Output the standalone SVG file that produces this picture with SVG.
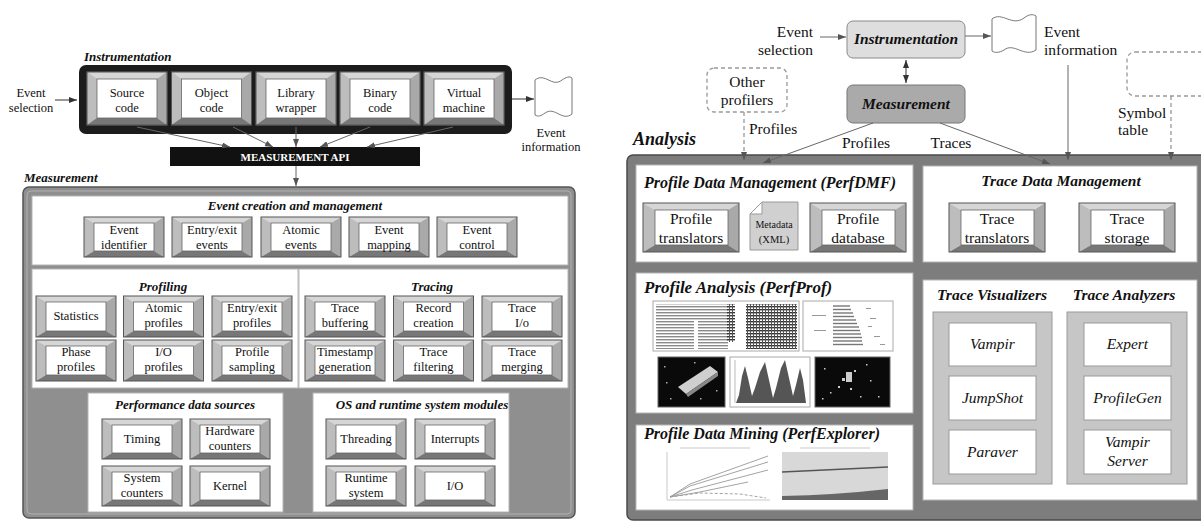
<svg xmlns="http://www.w3.org/2000/svg" width="1201" height="522" viewBox="0 0 1201 522" font-family="'Liberation Serif', 'Times New Roman', Tinos, 'DejaVu Serif', serif">
<style>
  text { font-family: 'Liberation Serif', 'Times New Roman', Tinos, 'DejaVu Serif', serif; fill: #111; }
  .c { text-anchor: middle; }
  .s { font-size: 12.5px; }
  .m { font-size: 15.5px; }
  .bi { font-weight: bold; font-style: italic; }
  .it { font-style: italic; font-size: 15.5px; text-anchor: middle; }
  .ht { font-size: 13px; }
  .hr { font-size: 15.5px; }
  .panel { fill: #fff; stroke: #b5b5b5; stroke-width: 1; }
  .ln { fill: none; stroke: #333; stroke-width: 1; }
  .lg { fill: none; stroke: #666; stroke-width: 1; }
  .dash { fill: none; stroke: #999; stroke-width: 1.3; stroke-dasharray: 4 3; }
</style>
<defs>
  <marker id="ah" viewBox="0 0 8 6" refX="8" refY="3" markerWidth="8" markerHeight="6" markerUnits="userSpaceOnUse" orient="auto-start-reverse">
    <path d="M0,0 L8,3 L0,6 z" fill="#333"/>
  </marker>
  <marker id="ahg" viewBox="0 0 8 6" refX="8" refY="3" markerWidth="8" markerHeight="6" markerUnits="userSpaceOnUse" orient="auto">
    <path d="M0,0 L8,3 L0,6 z" fill="#555"/>
  </marker>
  <!-- bevelled buttons -->
  <symbol id="btnA" overflow="visible">
    <rect x="0" y="0" width="80" height="53" fill="#c8c8c8" stroke="#555" stroke-width="1"/>
    <polygon points="0,0 80,0 70,7 10,7" fill="#d6d6d6"/>
    <polygon points="0,0 10,7 10,46 0,53" fill="#bdbdbd"/>
    <polygon points="80,0 80,53 70,46 70,7" fill="#a9a9a9"/>
    <polygon points="0,53 10,46 70,46 80,53" fill="#777"/>
    <rect x="10" y="7" width="60" height="39" fill="#fff" stroke="#666" stroke-width="0.8"/>
    <rect x="0" y="0" width="80" height="53" fill="none" stroke="#555" stroke-width="1"/>
  </symbol>
  <symbol id="btnB" overflow="visible">
    <polygon points="0,0 80,0 70,6 10,6" fill="#d6d6d6"/>
    <polygon points="0,0 10,6 10,34 0,40" fill="#bdbdbd"/>
    <polygon points="80,0 80,40 70,34 70,6" fill="#a9a9a9"/>
    <polygon points="0,40 10,34 70,34 80,40" fill="#777"/>
    <rect x="10" y="6" width="60" height="28" fill="#fff" stroke="#666" stroke-width="0.8"/>
    <rect x="0" y="0" width="80" height="40" fill="none" stroke="#555" stroke-width="1"/>
  </symbol>
  <symbol id="btnC" overflow="visible">
    <polygon points="0,0 80,0 70,6 10,6" fill="#d6d6d6"/>
    <polygon points="0,0 10,6 10,35 0,41" fill="#bdbdbd"/>
    <polygon points="80,0 80,41 70,35 70,6" fill="#a9a9a9"/>
    <polygon points="0,41 10,35 70,35 80,41" fill="#777"/>
    <rect x="10" y="6" width="60" height="29" fill="#fff" stroke="#666" stroke-width="0.8"/>
    <rect x="0" y="0" width="80" height="41" fill="none" stroke="#555" stroke-width="1"/>
  </symbol>
  <symbol id="btnE" overflow="visible">
    <polygon points="0,0 96,0 85,7 12,7" fill="#d6d6d6"/>
    <polygon points="0,0 12,7 12,42 0,49" fill="#bdbdbd"/>
    <polygon points="96,0 96,49 85,42 85,7" fill="#a9a9a9"/>
    <polygon points="0,49 12,42 85,42 96,49" fill="#777"/>
    <rect x="12" y="7" width="73" height="35" fill="#fff" stroke="#666" stroke-width="0.8"/>
    <rect x="0" y="0" width="96" height="49" fill="none" stroke="#555" stroke-width="1"/>
  </symbol>
  <pattern id="rows" width="6" height="3" patternUnits="userSpaceOnUse">
    <rect x="0" y="0" width="6" height="1.4" fill="#8a8a8a"/>
  </pattern>
  <pattern id="grid" width="3" height="3" patternUnits="userSpaceOnUse">
    <rect x="0" y="0" width="3" height="1.4" fill="#333"/>
    <rect x="0" y="0" width="1" height="3" fill="#555"/>
  </pattern>
</defs>

<rect width="1201" height="522" fill="#fff"/>

<!-- ===================== Left: measurement system ===================== -->
<g id="left-instrumentation">
  <text x="84" y="61" class="bi ht">Instrumentation</text>
  <rect x="79" y="65" width="433" height="69" rx="7" fill="#1c1c1c"/>
  <use href="#btnA" x="87" y="72"/>
  <use href="#btnA" x="171.5" y="72"/>
  <use href="#btnA" x="256" y="72"/>
  <use href="#btnA" x="340" y="72"/>
  <use href="#btnA" x="424" y="72"/>
  <text class="s c" x="127" y="97">Source</text><text class="s c" x="127" y="112">code</text>
  <text class="s c" x="211.5" y="97">Object</text><text class="s c" x="211.5" y="112">code</text>
  <text class="s c" x="296" y="97">Library</text><text class="s c" x="296" y="112">wrapper</text>
  <text class="s c" x="380" y="97">Binary</text><text class="s c" x="380" y="112">code</text>
  <text class="s c" x="464" y="97">Virtual</text><text class="s c" x="464" y="112">machine</text>
</g>

<g id="left-event-selection">
  <text class="s c" x="31" y="97">Event</text>
  <text class="s c" x="31" y="112">selection</text>
</g>

<g id="left-event-information">
  <path d="M535,80 C545,72 552,88 562,80 C566,77 570,76 572,78 L572,114 C562,122 555,106 545,113 C541,116 538,117 535,115 Z" fill="#fff" stroke="#777" stroke-width="1"/>
  <text class="s c" x="551" y="137">Event</text>
  <text class="s c" x="551" y="151">information</text>
</g>

<g id="measurement-api">
  <rect x="170" y="147" width="250" height="19" fill="#111"/>
  <text x="295" y="161" class="c" style="font-size:11px;font-weight:bold;fill:#fff">MEASUREMENT API</text>
</g>

<g id="left-measurement">
  <text x="24" y="182" class="bi ht">Measurement</text>
  <rect x="23" y="187" width="552" height="331" rx="6" fill="#8f8f8f" stroke="#555" stroke-width="1.5"/>
  <rect x="27" y="191" width="544" height="323" rx="4" fill="none" stroke="#b0b0b0" stroke-width="1"/>
</g>

<g id="event-creation">
  <rect class="panel" x="32" y="196" width="536" height="69"/>
  <text x="295" y="210" class="bi ht c">Event creation and management</text>
  <use href="#btnB" x="84" y="217"/>
  <use href="#btnB" x="172" y="217"/>
  <use href="#btnB" x="261" y="217"/>
  <use href="#btnB" x="349" y="217"/>
  <use href="#btnB" x="437" y="217"/>
  <text class="s c" x="124" y="234">Event</text><text class="s c" x="124" y="249">identifier</text>
  <text class="s c" x="212" y="234">Entry/exit</text><text class="s c" x="212" y="249">events</text>
  <text class="s c" x="301" y="234">Atomic</text><text class="s c" x="301" y="249">events</text>
  <text class="s c" x="389" y="234">Event</text><text class="s c" x="389" y="249">mapping</text>
  <text class="s c" x="477" y="234">Event</text><text class="s c" x="477" y="249">control</text>
</g>

<g id="profiling">
  <rect class="panel" x="32" y="269" width="536" height="119"/>
  <line x1="298.5" y1="269" x2="298.5" y2="388" stroke="#bdbdbd" stroke-width="2"/>
  <text x="163" y="291" class="bi ht c">Profiling</text>
  <use href="#btnC" x="36" y="296"/>
  <use href="#btnC" x="123.5" y="296"/>
  <use href="#btnC" x="212" y="296"/>
  <use href="#btnC" x="36" y="340"/>
  <use href="#btnC" x="123.5" y="340"/>
  <use href="#btnC" x="212" y="340"/>
  <text class="s c" x="76" y="320">Statistics</text>
  <text class="s c" x="163.5" y="312">Atomic</text><text class="s c" x="163.5" y="327">profiles</text>
  <text class="s c" x="252" y="312">Entry/exit</text><text class="s c" x="252" y="327">profiles</text>
  <text class="s c" x="76" y="356">Phase</text><text class="s c" x="76" y="371">profiles</text>
  <text class="s c" x="163.5" y="356">I/O</text><text class="s c" x="163.5" y="371">profiles</text>
  <text class="s c" x="252" y="356">Profile</text><text class="s c" x="252" y="371">sampling</text>
</g>

<g id="tracing">
  <text x="432" y="291" class="bi ht c">Tracing</text>
  <use href="#btnC" x="305" y="296"/>
  <use href="#btnC" x="393.5" y="296"/>
  <use href="#btnC" x="482" y="296"/>
  <use href="#btnC" x="305" y="340"/>
  <use href="#btnC" x="393.5" y="340"/>
  <use href="#btnC" x="482" y="340"/>
  <text class="s c" x="345" y="312">Trace</text><text class="s c" x="345" y="327">buffering</text>
  <text class="s c" x="433.5" y="312">Record</text><text class="s c" x="433.5" y="327">creation</text>
  <text class="s c" x="522" y="312">Trace</text><text class="s c" x="522" y="327">I/o</text>
  <text class="s c" x="345" y="356">Timestamp</text><text class="s c" x="345" y="371">generation</text>
  <text class="s c" x="433.5" y="356">Trace</text><text class="s c" x="433.5" y="371">filtering</text>
  <text class="s c" x="522" y="356">Trace</text><text class="s c" x="522" y="371">merging</text>
</g>

<g id="performance-data-sources">
  <rect class="panel" x="88" y="393" width="195" height="119"/>
  <text x="185" y="409" class="bi ht c">Performance data sources</text>
  <use href="#btnB" x="102" y="419"/>
  <use href="#btnB" x="190" y="419"/>
  <use href="#btnB" x="102" y="466"/>
  <use href="#btnB" x="190" y="466"/>
  <text class="s c" x="142" y="443">Timing</text>
  <text class="s c" x="230" y="435">Hardware</text><text class="s c" x="230" y="450">counters</text>
  <text class="s c" x="142" y="482">System</text><text class="s c" x="142" y="497">counters</text>
  <text class="s c" x="230" y="490">Kernel</text>
</g>

<g id="os-runtime-modules">
  <rect class="panel" x="313" y="393" width="196" height="119"/>
  <text x="422" y="409" class="bi ht c">OS and runtime system modules</text>
  <use href="#btnB" x="326" y="419"/>
  <use href="#btnB" x="415" y="419"/>
  <use href="#btnB" x="326" y="466"/>
  <use href="#btnB" x="415" y="466"/>
  <text class="s c" x="366" y="443">Threading</text>
  <text class="s c" x="455" y="443">Interrupts</text>
  <text class="s c" x="366" y="482">Runtime</text><text class="s c" x="366" y="497">system</text>
  <text class="s c" x="455" y="490">I/O</text>
</g>

<!-- ===================== Right: analysis system ===================== -->
<g id="right-instrumentation">
  <rect x="847" y="21" width="118" height="37" rx="6" fill="#dedede" stroke="#8a8a8a" stroke-width="1"/>
  <text x="906" y="44" class="bi hr c">Instrumentation</text>
</g>

<g id="right-measurement">
  <rect x="847" y="85" width="118" height="38" rx="6" fill="#aaaaaa" stroke="#777" stroke-width="1"/>
  <text x="906" y="109" class="bi hr c">Measurement</text>
</g>

<g id="right-event-selection">
  <text class="m" x="813" y="37" text-anchor="end">Event</text>
  <text class="m" x="813" y="55" text-anchor="end">selection</text>
</g>

<g id="right-event-information">
  <path d="M992,19 C1002,11 1012,27 1024,18 C1029,14 1033,14 1036,16 L1036,50 C1024,58 1014,42 1004,50 C999,53 995,53 992,51 Z" fill="#fff" stroke="#777" stroke-width="1"/>
  <text class="m" x="1044" y="37">Event</text>
  <text class="m" x="1044" y="55">information</text>
</g>

<g id="other-profilers">
  <rect class="dash" x="707" y="68" width="80" height="44" rx="7"/>
  <text class="m c" x="747" y="87">Other</text>
  <text class="m c" x="747" y="105">profilers</text>
</g>

<g id="symbol-table">
  <rect class="dash" x="1127" y="52" width="100" height="44" rx="8"/>
  <text class="m" x="1118" y="118">Symbol</text>
  <text class="m" x="1118" y="135">table</text>
</g>

<g id="analysis">
  <text x="633" y="145" class="bi" style="font-size:18px">Analysis</text>
  <rect x="627" y="155" width="582" height="365" rx="6" fill="#7d7d7d" stroke="#4a4a4a" stroke-width="1.5"/>
</g>

<g id="perfdmf">
  <rect class="panel" x="636" y="165" width="277" height="97"/>
  <text x="644" y="188" class="bi" style="font-size:16px">Profile Data Management (PerfDMF)</text>
  <use href="#btnE" x="643" y="203"/>
  <use href="#btnE" x="810" y="203"/>
  <text class="m c" x="691" y="224">Profile</text><text class="m c" x="691" y="243">translators</text>
  <text class="m c" x="858" y="224">Profile</text><text class="m c" x="858" y="243">database</text>
  <path d="M762,202 L798,202 L798,250 L750,250 L750,214 Z" fill="#d0d0d0" stroke="#999" stroke-width="1"/>
  <path d="M750,214 L762,214 L762,202 Z" fill="#fff" stroke="#999" stroke-width="1"/>
  <text class="c" x="774" y="228" style="font-size:10px">Metadata</text>
  <text class="c" x="774" y="243" style="font-size:10.5px">(XML)</text>
</g>

<g id="trace-data-management">
  <rect class="panel" x="923" y="166" width="274" height="96"/>
  <text x="1061" y="186" class="bi hr c">Trace Data Management</text>
  <use href="#btnE" x="949" y="203"/>
  <use href="#btnE" x="1079" y="203"/>
  <text class="m c" x="997" y="224">Trace</text><text class="m c" x="997" y="243">translators</text>
  <text class="m c" x="1127" y="224">Trace</text><text class="m c" x="1127" y="243">storage</text>
</g>

<g id="perfprof">
  <rect class="panel" x="636" y="273" width="277" height="140"/>
  <text x="644" y="293" class="bi" style="font-size:17px">Profile Analysis (PerfProf)</text>
  <!-- timeline view -->
  <rect x="653" y="301" width="146" height="50" fill="#fff" stroke="#aaa"/>
  <rect x="656" y="304" width="72" height="45" fill="url(#rows)"/>
  <rect x="694" y="320" width="4" height="29" fill="#fff"/>
  <rect x="727" y="304" width="8" height="38" fill="url(#grid)"/>
  <rect x="746" y="304" width="51" height="45" fill="url(#grid)"/>
  <!-- sorted bar view -->
  <rect x="803" y="301" width="90" height="50" fill="#fff" stroke="#aaa"/>
  <g stroke="#777" stroke-width="1.4">
    <line x1="833" y1="306" x2="850" y2="306"/><line x1="833" y1="309.5" x2="851" y2="309.5"/>
    <line x1="833" y1="313" x2="853" y2="313"/><line x1="833" y1="316.5" x2="854" y2="316.5"/>
    <line x1="833" y1="320" x2="856" y2="320"/><line x1="833" y1="323.5" x2="857" y2="323.5"/>
    <line x1="833" y1="327" x2="859" y2="327"/><line x1="833" y1="330.5" x2="860" y2="330.5"/>
    <line x1="833" y1="334" x2="861" y2="334"/><line x1="833" y1="337.5" x2="862" y2="337.5"/>
    <line x1="833" y1="341" x2="862" y2="341"/><line x1="833" y1="344.5" x2="863" y2="344.5"/>
  </g>
  <g fill="#999">
    <rect x="866" y="308" width="5" height="1"/><rect x="870" y="318" width="6" height="1"/>
    <rect x="868" y="326" width="4" height="1"/><rect x="874" y="336" width="6" height="1"/>
    <rect x="880" y="344" width="5" height="1"/><rect x="812" y="315" width="14" height="1"/>
    <rect x="814" y="330" width="12" height="1"/>
  </g>
  <!-- 3D view -->
  <rect x="658" y="357" width="67" height="50" fill="#0a0a0a" stroke="#666"/>
  <polygon points="678,387 710,366 718,372 686,394" fill="#cfcfcf"/>
  <polygon points="686,394 718,372 718,376 688,397" fill="#888"/>
  <g fill="#aaa">
    <rect x="664" y="366" width="1.5" height="1.5"/><rect x="670" y="398" width="1.5" height="1.5"/>
    <rect x="700" y="398" width="1.5" height="1.5"/><rect x="716" y="390" width="1.5" height="1.5"/>
    <rect x="666" y="382" width="1.5" height="1.5"/><rect x="694" y="362" width="1.5" height="1.5"/>
  </g>
  <!-- histogram view -->
  <rect x="730" y="357" width="80" height="50" fill="#fff" stroke="#aaa"/>
  <line x1="735" y1="360" x2="735" y2="403" stroke="#bbb"/>
  <path d="M736,403 L739,395 L742,376 L745,366 L748,378 L752,396 L755,388 L760,372 L765,362 L769,380 L773,398 L776,388 L781,368 L785,360 L789,378 L793,396 L796,385 L800,368 L803,380 L806,403 Z" fill="#555"/>
  <!-- scatter view -->
  <rect x="815" y="357" width="75" height="50" fill="#0a0a0a" stroke="#666"/>
  <g fill="#ccc">
    <rect x="846" y="372" width="6" height="10"/><rect x="842" y="378" width="3" height="3"/>
    <rect x="854" y="370" width="2" height="2"/><rect x="838" y="386" width="2" height="2"/>
    <rect x="824" y="368" width="1.5" height="1.5"/><rect x="830" y="392" width="1.5" height="1.5"/>
    <rect x="870" y="380" width="1.5" height="1.5"/><rect x="878" y="396" width="1.5" height="1.5"/>
    <rect x="860" y="396" width="1.5" height="1.5"/><rect x="866" y="364" width="1.5" height="1.5"/>
    <rect x="822" y="398" width="1.5" height="1.5"/><rect x="850" y="388" width="2" height="2"/>
  </g>
</g>

<g id="perfexplorer">
  <rect class="panel" x="636" y="425" width="277" height="85"/>
  <text x="644" y="439" class="bi" style="font-size:16px">Profile Data Mining (PerfExplorer)</text>
  <!-- speedup chart -->
  <rect x="657" y="445" width="115" height="60" fill="#fff"/>
  <g stroke="#bbb" stroke-width="0.8" fill="none">
    <line x1="680" y1="448" x2="750" y2="448"/>
    <line x1="667" y1="452" x2="667" y2="500"/>
    <line x1="667" y1="500" x2="770" y2="500"/>
  </g>
  <g stroke="#999" stroke-width="0.9" fill="none">
    <polyline points="670,497 690,484 768,456"/>
    <polyline points="670,497 690,486 768,462"/>
    <polyline points="670,497 692,490 768,470"/>
    <polyline points="670,497 700,492 748,482"/>
    <polyline points="670,497 700,493 740,494 766,498" stroke-dasharray="3 2"/>
  </g>
  <!-- runtime breakdown chart -->
  <rect x="775" y="445" width="115" height="60" fill="#fff"/>
  <line x1="800" y1="448" x2="870" y2="448" stroke="#bbb" stroke-width="0.8"/>
  <rect x="782" y="452" width="106" height="48" fill="#d8d8d8"/>
  <path d="M782,500 L782,496 Q835,495 888,489 L888,500 Z" fill="#666"/>
  <line x1="782" y1="472" x2="888" y2="467" stroke="#555" stroke-width="1.5"/>
</g>

<g id="trace-tools">
  <rect class="panel" x="923" y="280" width="274" height="220"/>
  <text x="992" y="300" class="bi hr c">Trace Visualizers</text>
  <text x="1124" y="300" class="bi hr c">Trace Analyzers</text>
  <rect x="933" y="312" width="119" height="172" fill="#c6c6c6" stroke="#9a9a9a"/>
  <rect x="1067" y="312" width="120" height="172" fill="#c6c6c6" stroke="#9a9a9a"/>
  <g fill="#fff" stroke="#999">
    <rect x="949" y="323" width="87" height="43"/>
    <rect x="949" y="376" width="87" height="44"/>
    <rect x="949" y="430" width="87" height="44"/>
    <rect x="1084" y="323" width="87" height="43"/>
    <rect x="1084" y="376" width="87" height="44"/>
    <rect x="1084" y="430" width="87" height="44"/>
  </g>
  <text class="it" x="992.5" y="349">Vampir</text>
  <text class="it" x="992.5" y="403">JumpShot</text>
  <text class="it" x="992.5" y="457">Paraver</text>
  <text class="it" x="1127.5" y="349">Expert</text>
  <text class="it" x="1127.5" y="403">ProfileGen</text>
  <text class="it" x="1127.5" y="447">Vampir</text>
  <text class="it" x="1127.5" y="466">Server</text>
</g>

<!-- ===================== connectors ===================== -->
<g id="connectors">
  <line class="ln" x1="55" y1="100" x2="77" y2="100" marker-end="url(#ah)"/>
  <line class="ln" x1="512" y1="99" x2="534" y2="99" marker-end="url(#ah)"/>
  <line class="lg" x1="137" y1="127" x2="230" y2="147" marker-end="url(#ahg)"/>
  <line class="lg" x1="233" y1="127" x2="273" y2="147" marker-end="url(#ahg)"/>
  <line class="lg" x1="296" y1="127" x2="296" y2="147" marker-end="url(#ahg)"/>
  <line class="lg" x1="370" y1="127" x2="320" y2="147" marker-end="url(#ahg)"/>
  <line class="lg" x1="453" y1="127" x2="367" y2="147" marker-end="url(#ahg)"/>
  <line class="lg" x1="296" y1="166" x2="296" y2="186" marker-end="url(#ahg)"/>

  <line class="lg" x1="820" y1="37" x2="846" y2="37" marker-end="url(#ahg)"/>
  <line class="lg" x1="965" y1="36" x2="991" y2="36" marker-end="url(#ahg)"/>
  <line class="ln" x1="906" y1="60" x2="906" y2="83" marker-start="url(#ah)" marker-end="url(#ah)"/>
  <line class="dash" x1="744" y1="112" x2="744" y2="154"/>
  <line class="lg" x1="744" y1="154" x2="744" y2="160" marker-end="url(#ahg)"/>
  <line class="lg" x1="873" y1="123" x2="763" y2="163" marker-end="url(#ahg)"/>
  <line class="lg" x1="940" y1="123" x2="1050" y2="164" marker-end="url(#ahg)"/>
  <line class="lg" x1="1068" y1="65" x2="1068" y2="160" marker-end="url(#ahg)"/>
  <line class="dash" x1="1171" y1="96" x2="1171" y2="154"/>
  <line class="lg" x1="1171" y1="154" x2="1171" y2="160" marker-end="url(#ahg)"/>
  <text class="m" x="749" y="134">Profiles</text>
  <text class="m c" x="866" y="148">Profiles</text>
  <text class="m c" x="951" y="148">Traces</text>
</g>
</svg>
